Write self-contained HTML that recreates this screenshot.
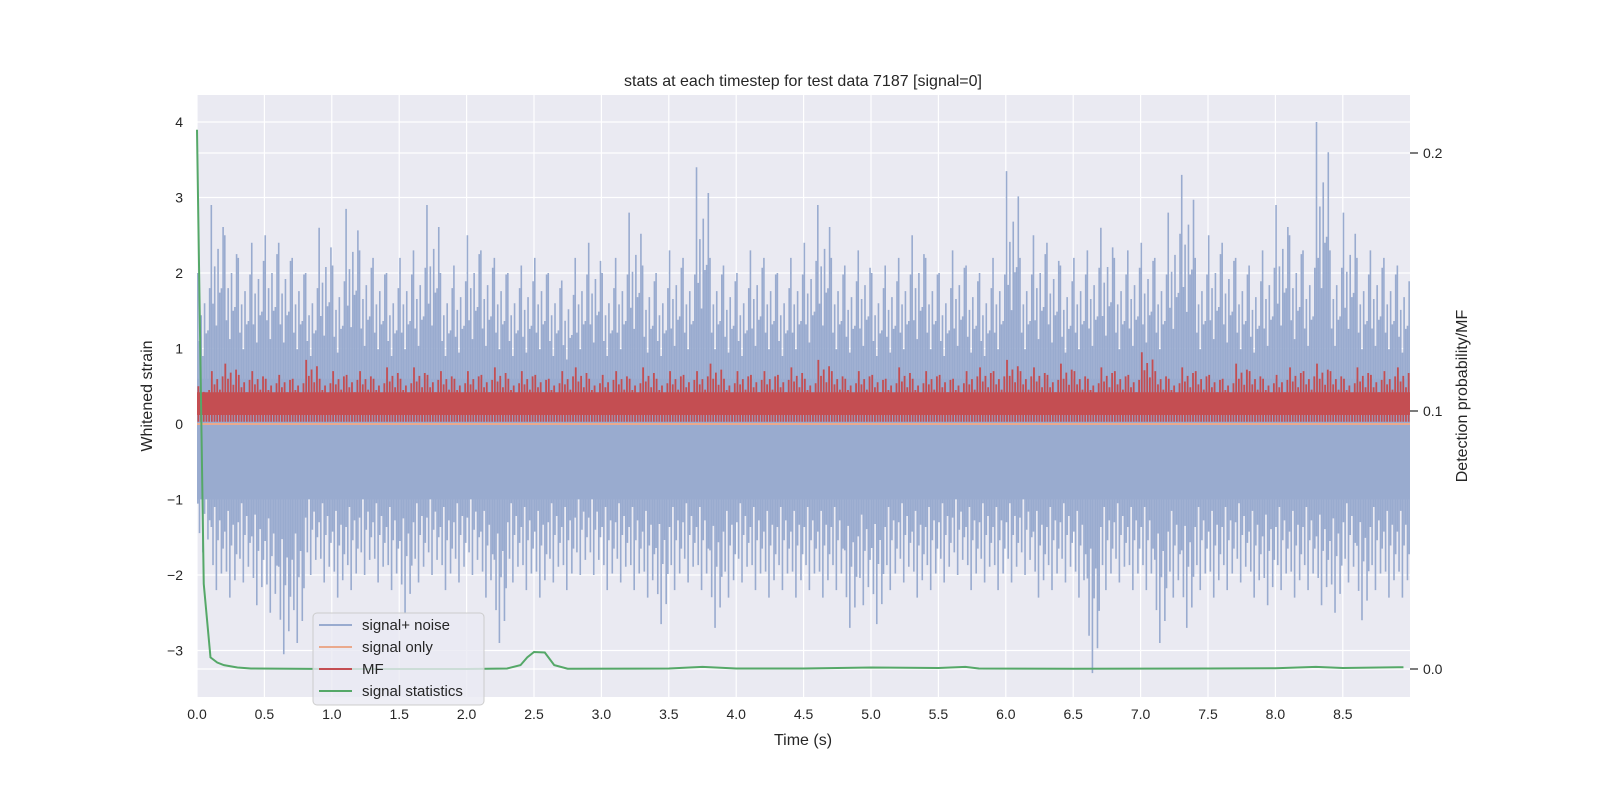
<!DOCTYPE html>
<html><head><meta charset="utf-8"><style>
html,body{margin:0;padding:0;background:#fff;overflow:hidden;width:1600px;height:800px;}
svg{display:block;}
svg text{font-family:"Liberation Sans","DejaVu Sans",sans-serif;fill:#262626;}
</style></head><body>
<svg id="c" width="1600" height="800" viewBox="0 0 1600 800" xmlns="http://www.w3.org/2000/svg">
<rect x="197" y="95" width="1213" height="602" fill="#eaeaf2"/>
<g id="grid"></g>
<g id="marks"></g>
<g id="axes"></g>
<text x="803" y="86" font-size="16" text-anchor="middle">stats at each timestep for test data 7187 [signal=0]</text>
<text x="803" y="745" font-size="16" text-anchor="middle">Time (s)</text>
<text transform="translate(152,396) rotate(-90)" font-size="16" text-anchor="middle">Whitened strain</text>
<text transform="translate(1467,396) rotate(-90)" font-size="16" text-anchor="middle">Detection probability/MF</text>
<g>
<rect x="313" y="613" width="171" height="92" rx="4" fill="#eaeaf2" fill-opacity="0.8" stroke="#cccccc"/>
<line x1="319" y1="625" x2="352" y2="625" stroke="#99abcf" stroke-width="2"/>
<text x="362" y="630" font-size="15">signal+ noise</text>
<line x1="319" y1="647" x2="352" y2="647" stroke="#eaa98c" stroke-width="2"/>
<text x="362" y="652" font-size="15">signal only</text>
<line x1="319" y1="669" x2="352" y2="669" stroke="#c44e52" stroke-width="2"/>
<text x="362" y="674" font-size="15">MF</text>
<line x1="319" y1="691" x2="352" y2="691" stroke="#55a868" stroke-width="2"/>
<text x="362" y="696" font-size="15">signal statistics</text>
</g>
</svg>
<script>
const xTicks=[0,0.5,1,1.5,2,2.5,3,3.5,4,4.5,5,5.5,6,6.5,7,7.5,8,8.5];
const yTicks=[-3,-2,-1,0,1,2,3,4];
const rTicks=[0,0.1,0.2];
const noiseHi=[2.0,2.9,2.5,2.2,2.4,2.5,2.4,2.2,2.0,2.6,2.1,2.85,2.3,2.2,2.0,2.2,2.3,2.9,2.0,2.1,2.5,2.3,2.2,2.0,2.1,2.2,2.0,1.9,2.2,2.4,2.0,2.2,2.8,2.1,2.0,2.3,2.2,3.4,2.2,2.1,2.0,2.3,2.2,2.0,2.2,2.4,2.9,2.2,2.1,2.3,2.0,2.1,2.2,2.5,2.2,2.0,2.3,2.1,2.0,2.2,3.35,2.2,2.5,2.4,2.1,2.2,2.3,2.6,2.2,2.3,2.4,2.2,2.8,3.3,2.2,2.5,2.4,2.2,2.1,2.3,2.9,2.5,2.3,4.0,2.3,2.8,2.2,2.3,2.2,2.1];
const noiseLo=[-1.7,-2.2,-2.3,-2.1,-2.4,-2.5,-3.05,-2.9,-2.0,-2.1,-2.3,-2.2,-2.0,-2.1,-2.2,-2.5,-2.1,-2.0,-2.2,-2.1,-2.0,-2.3,-2.9,-2.1,-2.2,-2.3,-2.1,-2.2,-2.0,-2.0,-2.2,-2.1,-2.2,-2.3,-2.65,-2.2,-2.1,-2.2,-2.7,-2.3,-2.1,-2.2,-2.3,-2.2,-2.3,-2.2,-2.3,-2.2,-2.7,-2.4,-2.65,-2.2,-2.1,-2.3,-2.2,-2.1,-2.0,-2.2,-2.1,-2.2,-2.1,-2.0,-2.3,-2.2,-2.1,-2.3,-3.3,-2.2,-2.1,-2.2,-2.2,-2.9,-2.3,-2.7,-2.2,-2.3,-2.2,-2.1,-2.3,-2.4,-2.2,-2.3,-2.2,-2.4,-2.5,-2.1,-2.6,-2.2,-2.3,-2.3];
const mfHi=[0.5,0.7,0.8,0.65,0.7,0.6,0.65,0.6,0.85,0.6,0.7,0.65,0.7,0.6,0.75,0.6,0.75,0.65,0.7,0.6,0.7,0.65,0.75,0.6,0.7,0.65,0.6,0.7,0.75,0.6,0.65,0.7,0.6,0.75,0.6,0.7,0.65,0.7,0.8,0.6,0.7,0.65,0.7,0.65,0.75,0.6,0.85,0.7,0.6,0.7,0.65,0.6,0.75,0.6,0.7,0.65,0.6,0.7,0.75,0.7,0.85,0.7,0.75,0.65,0.8,0.7,0.6,0.75,0.7,0.65,0.95,0.7,0.6,0.75,0.7,0.65,0.6,0.8,0.7,0.6,0.65,0.75,0.7,0.8,0.7,0.6,0.75,0.65,0.7,0.75];
const statT=[0,0.05,0.1,0.15,0.2,0.3,0.4,1.0,2.0,2.3,2.4,2.45,2.5,2.58,2.65,2.75,3.5,3.75,4.0,4.5,5.0,5.5,5.7,5.8,6.5,7.5,8.0,8.3,8.5,8.95];
const statV=[0.209,0.033,0.0045,0.0025,0.0015,0.0006,0.0002,0.0,0.0,0.0002,0.0015,0.0045,0.0066,0.0064,0.0015,0.0001,0.0002,0.0008,0.0002,0.0002,0.0006,0.0004,0.0008,0.0002,0.0001,0.0002,0.0003,0.0008,0.0004,0.0007];
const X0=197,X1=1410,Y0=95,Y1=697;
const xs=t=>X0+t*134.8;
const ys=v=>424-v*75.5;
const yr=v=>669-v*2580;
const NS='http://www.w3.org/2000/svg';
function mk(tag,attrs,parent){const e=document.createElementNS(NS,tag);for(const k in attrs)e.setAttribute(k,attrs[k]);document.getElementById(parent).appendChild(e);return e;}
yTicks.forEach(v=>{const l=mk('line',{x1:X0,x2:X1,y1:ys(v),y2:ys(v),stroke:'#fff','stroke-width':1.2},'grid');

});
rTicks.forEach(v=>{const l=mk('line',{x1:X0,x2:X1,y1:yr(v),y2:yr(v),stroke:'#fff','stroke-width':1.2},'grid');

});
xTicks.forEach(v=>{const l=mk('line',{x1:xs(v),x2:xs(v),y1:Y0,y2:Y1,stroke:'#fff','stroke-width':1.2},'grid');

});
const bw=(X1-X0)/noiseHi.length;
let d='';
const fu=[1,0.55,0.72,0.45,0.8,0.5,0.62,0.9];
const fl=[0.62,0.85,0.5,1,0.7,0.58,0.9,0.75];
noiseHi.forEach((h,i)=>{
 const x=X0+i*bw;
 d+=`M${x} ${ys(0.35)}H${x+bw}V${ys(-0.7)}H${x}Z`;
 for(let k=0;k<8;k++){const xx=x+bw*(k+0.5)/8;
  d+=`M${xx-0.8} ${ys(h*fu[k])}h1.6V${ys(0)}h-1.6Z`;
  d+=`M${xx-0.8} ${ys(0)}h1.6V${ys(noiseLo[i]*fl[k])}h-1.6Z`;
  d+=`M${xx-0.8} ${ys(h*fu[(k+3)%8]*0.6)}h1.6V${ys(0)}h-1.6Z`;}
 d+=`M${x} ${ys(0.6)}H${x+bw}V${ys(-1.0)}H${x}Z`;
});
const np=mk('path',{d:d,fill:'#99abcf'},'marks');


const so=mk('line',{x1:X0,x2:X1,y1:ys(0),y2:ys(0),stroke:'#eaa98c','stroke-width':2},'marks');


let m='';
mfHi.forEach((h,i)=>{const x=X0+i*bw;
 m+=`M${x} ${ys(0.42)}H${x+bw}V${ys(0.12)}H${x}Z`;
 for(let k=0;k<5;k++){const f=[1,0.75,0.85,0.65,0.9][k];const xx=x+bw*(k+0.5)/5;
  m+=`M${xx-0.9} ${ys(h*f)}h1.8V${ys(0.03)}h-1.8Z`;}
});
const mp=mk('path',{d:m,fill:'#c44e52'},'marks');


const sp=mk('polyline',{points:statT.map((t,i)=>xs(t)+','+yr(statV[i])).join(' '),fill:'none',stroke:'#55a868','stroke-width':2},'marks');


xTicks.forEach(v=>{const t=mk('text',{x:xs(v),y:719,'font-size':14,'text-anchor':'middle'},'axes');t.textContent=v.toFixed(1);

});
yTicks.forEach(v=>{const t=mk('text',{x:183,y:ys(v)+5,'font-size':14,'text-anchor':'end'},'axes');t.textContent=v<0?'\u2212'+(-v):String(v);

});
rTicks.forEach(v=>{mk('line',{x1:1410,x2:1418,y1:yr(v),y2:yr(v),stroke:'#262626','stroke-width':1.2},'axes');
const t=mk('text',{x:1423,y:yr(v)+5,'font-size':14},'axes');t.textContent=v.toFixed(1);

});
</script>
</body></html>
